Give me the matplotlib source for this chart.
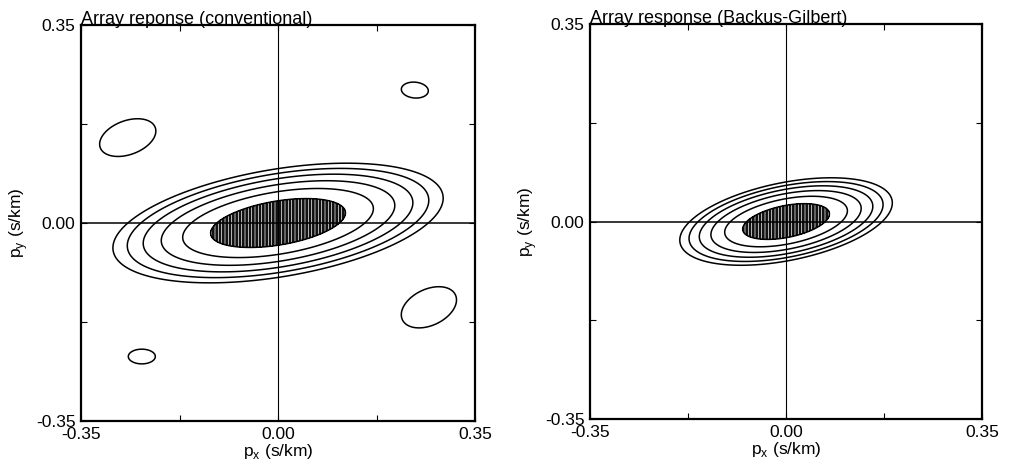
import numpy as np
import matplotlib
matplotlib.use("Agg")
import matplotlib.pyplot as plt

plt.rcParams['font.family'] = ['Liberation Sans', 'DejaVu Sans']
plt.rcParams['hatch.color'] = 'white'
plt.rcParams['hatch.linewidth'] = 0.5

# ---- data ----
titles = ["Array reponse (conventional)", "Array response (Backus-Gilbert)"]
tick_values = [-0.35, -0.175, 0.0, 0.175, 0.35]
tick_labels = ["-0.35", "", "0.00", "", "0.35"]

# contour levels (dB relative to peak); filled region above -1 dB
line_levels = [-6, -5, -4, -3, -2, -1]
fill_levels = [-1, 0]

# main lobe: -6 dB ellipse semi-axes (s/km) and tilt (deg)
main_a = [0.297, 0.193]
main_b = [0.095, 0.069]
main_tilt = [9.5, 11.3]

# side lobes (conventional only): centre x, centre y, semi-axes, tilt, peak dB
side_x = [-0.267, 0.243, 0.268, -0.242]
side_y = [0.151, 0.235, -0.149, -0.236]
side_a = [0.052, 0.024, 0.052, 0.024]
side_b = [0.030, 0.014, 0.032, 0.013]
side_tilt = [20, -5, 25, 0]
side_peak = [-5.5, -5.5, -5.5, -5.5]

fig = plt.figure(figsize=(10.14, 4.74), dpi=100)
axes = [fig.add_axes([0.0799, 0.1118, 0.3886, 0.8354]),
        fig.add_axes([0.5819, 0.1160, 0.3866, 0.8333])]

g = np.linspace(-0.35, 0.35, 501)
X, Y = np.meshgrid(g, g)


def rho2(cx, cy, a, b, tilt):
    t = np.deg2rad(tilt)
    u = (X - cx) * np.cos(t) + (Y - cy) * np.sin(t)
    v = -(X - cx) * np.sin(t) + (Y - cy) * np.cos(t)
    return (u / a) ** 2 + (v / b) ** 2


for i, ax in enumerate(axes):
    Z = -6.0 * rho2(0, 0, main_a[i], main_b[i], main_tilt[i])
    if i == 0:
        for k in range(len(side_x)):
            r = rho2(side_x[k], side_y[k], side_a[k], side_b[k], side_tilt[k])
            S = side_peak[k] - (6.0 + side_peak[k]) * r
            Z = np.maximum(Z, S)
    ax.contourf(X, Y, Z, levels=fill_levels, colors=['#111111'], hatches=['|||||'])
    ax.contour(X, Y, Z, levels=line_levels, colors='black', linewidths=1.1,
               linestyles='solid')
    ax.axhline(0, color='black', lw=1.1)
    ax.axvline(0, color='black', lw=0.8)
    ax.set_xlim(-0.35, 0.35)
    ax.set_ylim(-0.35, 0.35)
    ax.set_xticks(tick_values)
    ax.set_xticklabels(tick_labels)
    ax.set_yticks(tick_values)
    ax.set_yticklabels(tick_labels)
    ax.tick_params(direction='in', length=4, width=0.8, top=True, right=True,
                   labelsize=12.5, pad=4)
    for s in ax.spines.values():
        s.set_linewidth(1.6)
    ax.set_xlabel(r"p$_\mathregular{x}$ (s/km)", fontsize=12.5, labelpad=0)
    ax.set_ylabel(r"p$_\mathregular{y}$ (s/km)", fontsize=12.5, labelpad=4)
    ax.set_title(titles[i], loc='left', fontsize=13, pad=1, x=0.0)

fig.savefig("out.png", dpi=100)
